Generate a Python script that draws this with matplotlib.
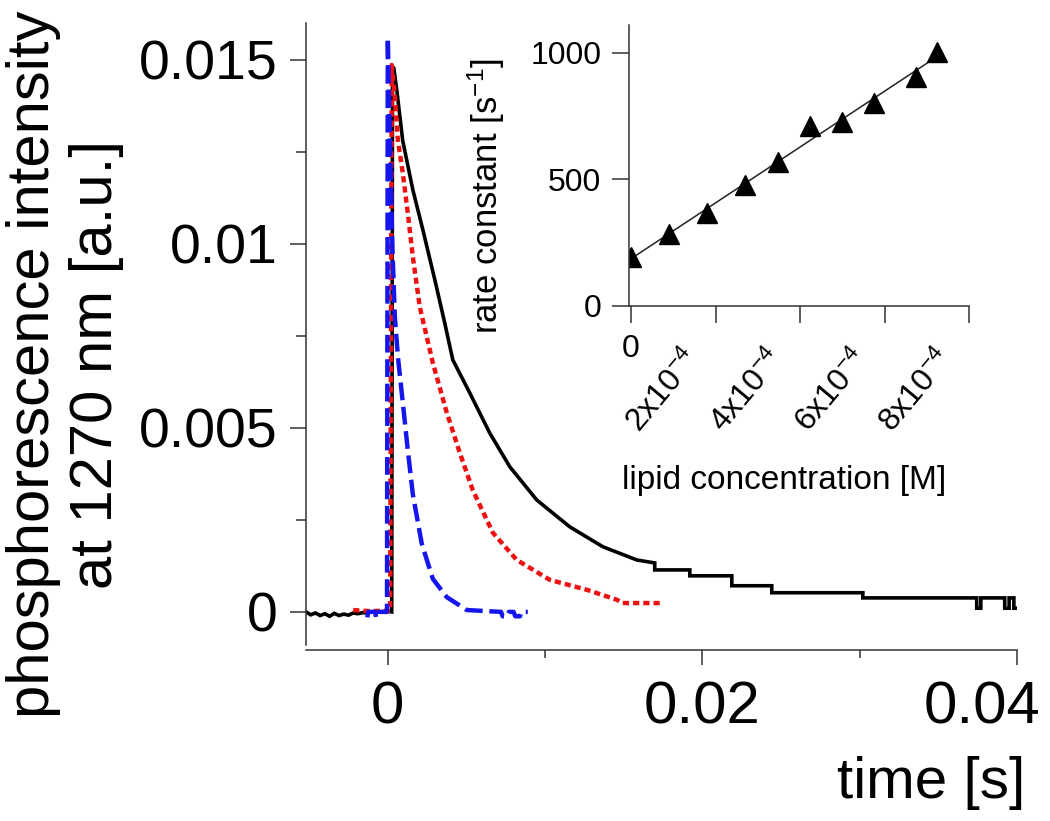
import numpy as np
import matplotlib
matplotlib.use("Agg")
import matplotlib.pyplot as plt
import matplotlib.transforms as mtransforms

plt.rcParams['font.family'] = ['Liberation Sans', 'DejaVu Sans']
plt.rcParams['mathtext.default'] = 'regular'

# ---------------------------------------------------------
# Data
# ---------------------------------------------------------
# black trace (solid)
black_t = [-0.0052, -0.0049, -0.0046, -0.0043, -0.0040, -0.0037, -0.0034, -0.0031,
           -0.0028, -0.0025, -0.0022, -0.0019, -0.0016, -0.0013, -0.0010, -0.0007,
           -0.0004, -0.0001, 0.00025, 0.0003, 0.00038, 0.00057, 0.00095, 0.00159,
           0.00223, 0.00299, 0.00362, 0.00413, 0.00521, 0.00648, 0.00776, 0.00947,
           0.01157, 0.01367, 0.01583, 0.01697, 0.01697, 0.0192, 0.0192, 0.02187,
           0.02187, 0.02441, 0.02441, 0.0302, 0.0302, 0.03744, 0.03744, 0.0377,
           0.0377, 0.03922, 0.03922, 0.0395, 0.0395, 0.0398, 0.0398, 0.0400]
black_i = [0.0, -0.00008, -0.00003, -0.0001, -0.00005, -0.00012, -0.00004, -0.0001,
           -0.00006, -0.00009, -0.00003, -0.00005, -0.00002, -0.00003, 0.0, 0.00001,
           0.0, 0.00002, 0.0, 0.0148, 0.01478, 0.01418, 0.0128, 0.01147,
           0.01038, 0.00902, 0.00785, 0.00685, 0.00595, 0.00486, 0.00394, 0.00304,
           0.00231, 0.00177, 0.00141, 0.00133, 0.00114, 0.00114, 0.00098, 0.00098,
           0.00071, 0.00071, 0.00052, 0.00052, 0.00038, 0.00038, 0.0001, 0.0001,
           0.00038, 0.00038, 0.0001, 0.0001, 0.00038, 0.00038, 0.0001, 0.0001]

# red trace (short dashes)
red_t = [-0.0022, -0.0016, -0.0010, -0.0004, 0.00015, 0.00025, 0.00045, 0.00064,
         0.00095, 0.00127, 0.00159, 0.00203, 0.00286, 0.00375, 0.00458, 0.0054,
         0.00668, 0.0082, 0.0103, 0.01265, 0.01456, 0.01494, 0.01748]
red_i = [0.00005, 0.00003, 0.00002, 0.00003, 0.00002, 0.01486, 0.0140, 0.01282,
         0.01193, 0.01084, 0.00965, 0.00829, 0.00677, 0.00541, 0.00432, 0.00331,
         0.00215, 0.00141, 0.00087, 0.0006, 0.00033, 0.00024, 0.00024]

# blue trace (long dashes)
blue_t = [-0.0013, -0.00125, -0.0008, -0.00075, -0.0007, -0.00005, 0.0, 0.00015,
          0.0003, 0.00045, 0.00065, 0.00095, 0.00127, 0.00159, 0.00216, 0.00286,
          0.00375, 0.00502, 0.0072, 0.0073, 0.0076, 0.0077, 0.0080, 0.0081,
          0.0084, 0.0085, 0.0089]
blue_i = [-0.00015, 0.0, 0.0, -0.00015, 0.0, 0.0, 0.0156, 0.0125,
          0.0098, 0.0080, 0.0069, 0.0057, 0.0044, 0.0032, 0.00185, 0.0009,
          0.0004, 0.00005, 0.0, -0.00012, -0.00012, 0.0, 0.0, -0.00012,
          -0.00012, 0.0, 0.0]

# inset: rate constant vs lipid concentration
lipid_conc = [0.0, 0.89e-4, 1.79e-4, 2.70e-4, 3.47e-4, 4.24e-4, 4.99e-4, 5.74e-4, 6.74e-4, 7.24e-4]
rate_const = [192, 283, 369, 476, 568, 711, 725, 801, 906, 1005]

main_xticks = [0, 0.02, 0.04]
main_xticklabels = ['0', '0.02', '0.04']
main_yticks = [0, 0.005, 0.01, 0.015]
main_yticklabels = ['0', '0.005', '0.01', '0.015']
inset_xticks = [0, 2e-4, 4e-4, 6e-4, 8e-4]
inset_xticklabels = ['0', r'2x10$^{-4}$', r'4x10$^{-4}$', r'6x10$^{-4}$', r'8x10$^{-4}$']
inset_yticks = [0, 500, 1000]
inset_yticklabels = ['0', '500', '1000']

# ---------------------------------------------------------
# Main plot
# ---------------------------------------------------------
fig = plt.figure(figsize=(10.5, 8.21), dpi=100)
ax = fig.add_axes([0.29143, 0.21437, 0.67714, 0.75761])

ax.plot(black_t, black_i, color='black', lw=2.6, solid_joinstyle='miter')
ax.plot(red_t, red_i, color='#ee1111', lw=3.2, linestyle=(0, (1.4, 0.9)))
ax.plot(blue_t, blue_i, color='#1515ee', lw=3.2, linestyle=(0, (4.0, 1.5)))

ax.set_xlim(-0.0052, 0.0400)
ax.set_ylim(-0.0009, 0.0160)

spine_col = '#333333'
for side in ['top', 'right']:
    ax.spines[side].set_visible(False)
for side in ['left', 'bottom']:
    ax.spines[side].set_color(spine_col)
    ax.spines[side].set_linewidth(1.1)
ax.spines['bottom'].set_position(('outward', 3.6))

ax.set_xticks(main_xticks)
ax.set_xticklabels(main_xticklabels)
ax.set_xticks([0.01, 0.03], minor=True)
ax.set_yticks(main_yticks)
ax.set_yticklabels(main_yticklabels)
ax.set_yticks([0.0025, 0.0075, 0.0125], minor=True)

ax.tick_params(axis='x', which='major', length=11, width=1.1, color=spine_col,
               labelsize=43, pad=11)
ax.tick_params(axis='x', which='minor', length=6, width=1.1, color=spine_col)
ax.tick_params(axis='y', which='major', length=11.5, width=1.1, color=spine_col,
               labelsize=40, pad=9)
ax.tick_params(axis='y', which='minor', length=7, width=1.1, color=spine_col)

# the last time label sits pulled in from the axis end, as in the source figure
last_shift = mtransforms.ScaledTranslation(-0.35, 0, fig.dpi_scale_trans)
last_lab = ax.get_xticklabels()[-1]
last_lab.set_transform(last_lab.get_transform() + last_shift)

ax.set_xlabel('time [s]', fontsize=42, ha='right', va='center')
ax.xaxis.set_label_coords(1.011, -0.2215)
ax.set_ylabel('phosphorescence intensity\nat 1270 nm [a.u.]', fontsize=43,
              ha='center', va='center')
ax.yaxis.set_label_coords(-0.339, 0.451)

# ---------------------------------------------------------
# Inset
# ---------------------------------------------------------
ins = fig.add_axes([0.59905, 0.62729, 0.32381, 0.34227])
ins.patch.set_alpha(0)

slope, intercept = np.polyfit(lipid_conc, rate_const, 1)
fit_x = np.array([0.0, max(lipid_conc)])
ins.plot(fit_x, slope * fit_x + intercept, color='#222222', lw=1.1)
ins.plot(lipid_conc, rate_const, linestyle='none', marker='^', color='black', ms=14)

ins.set_xlim(-0.05e-4, 8e-4)
ins.set_ylim(0, 1110)
for side in ['top', 'right']:
    ins.spines[side].set_visible(False)
for side in ['left', 'bottom']:
    ins.spines[side].set_color(spine_col)
    ins.spines[side].set_linewidth(1.1)

ins.set_xticks(inset_xticks)
ins.set_xticklabels(inset_xticklabels)
ins.set_yticks(inset_yticks)
ins.set_yticklabels(inset_yticklabels)
ins.tick_params(axis='both', length=12, width=1.1, color=spine_col, labelsize=23)
ins.tick_params(axis='y', pad=8)
ins.tick_params(axis='x', pad=8)

shift = mtransforms.ScaledTranslation(-0.09, -0.10, fig.dpi_scale_trans)
for lab in ins.get_xticklabels()[1:]:
    lab.set_rotation(50)
    lab.set_ha('right')
    lab.set_transform(lab.get_transform() + shift)

ins.set_xlabel('lipid concentration [M]', fontsize=24, va='center')
ins.xaxis.set_label_coords(0.455, -0.62)
ins.set_ylabel('rate constant [s$^{-1}$]', fontsize=25, va='center')
ins.yaxis.set_label_coords(-0.42, 0.39)

fig.savefig('out.png', dpi=100)
